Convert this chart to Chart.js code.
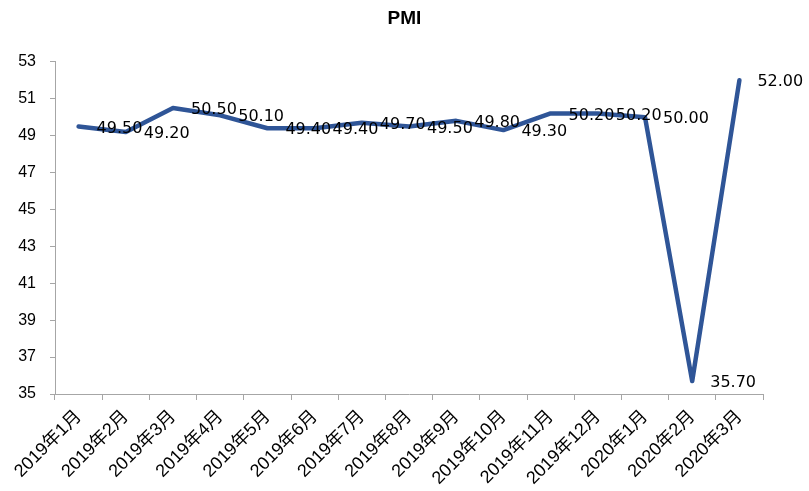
<!DOCTYPE html>
<html>
<head>
<meta charset="utf-8">
<script src="https://cdn.jsdelivr.net/npm/chart.js@4/dist/chart.umd.min.js"></script>
<style>
	html, body { margin: 0; padding: 0; background: #fff; overflow: hidden; }
</style>
</head>
<body>
<canvas id="myChart" width="809" height="491"></canvas>
<script>
// datos del grafico
const months = ['2019年1月', '2019年2月', '2019年3月', '2019年4月', '2019年5月', '2019年6月', '2019年7月', '2019年8月', '2019年9月', '2019年10月', '2019年11月', '2019年12月', '2020年1月', '2020年2月', '2020年3月']
const pmi = [49.5, 49.2, 50.5, 50.1, 49.4, 49.4, 49.7, 49.5, 49.8, 49.3, 50.2, 50.2, 50.0, 35.7, 52.0]
const yMin = 35
const yMax = 53
const yStep = 2

const axisGrey = '#a6a6a6'
const yFont = { family: "'Liberation Sans', sans-serif", size: 16 }
const xFont = { family: "'Liberation Sans', 'Noto Sans CJK SC', sans-serif", size: 18 }

// etiquetas de valores a la derecha de cada punto
const valueLabels = {
	id: 'valueLabels',
	afterDatasetsDraw: (chart) => {
		const ctx = chart.ctx
		const meta = chart.getDatasetMeta(0)
		ctx.save()
		ctx.font = "16px 'DejaVu Sans', sans-serif"
		ctx.fillStyle = '#000'
		ctx.textAlign = 'left'
		ctx.textBaseline = 'middle'
		meta.data.forEach((pt, i) => {
			ctx.fillText(pmi[i].toFixed(2), pt.x + 18, pt.y + 2)
		})
		ctx.restore()
	},
}

const ctx = document.getElementById('myChart').getContext('2d')
const myChart = new Chart(ctx, {
	type: 'line',
	data: {
		labels: months,
		datasets: [
			{
				label: 'PMI',
				data: pmi,
				borderColor: '#2F5597',
				borderWidth: 4.5,
				borderJoinStyle: 'round',
				borderCapStyle: 'round',
				pointRadius: 0,
				tension: 0,
				fill: false,
			},
		],
	},
	options: {
		responsive: false,
		animation: false,
		devicePixelRatio: 1,
		layout: { padding: 0 },
		plugins: {
			legend: { display: false },
			tooltip: { enabled: false },
			title: {
				display: true,
				text: 'PMI',
				color: '#000',
				font: { family: "'Liberation Sans', sans-serif", size: 19, weight: 'bold' },
				padding: { top: 7, bottom: 32 },
			},
		},
		scales: {
			x: {
				offset: true,
				grid: { offset: true, drawOnChartArea: false, drawTicks: true, tickLength: 6, color: axisGrey },
				border: { color: axisGrey, width: 1 },
				ticks: { color: '#000', font: xFont, minRotation: 45, maxRotation: 45, autoSkip: false, padding: 6 },
				afterFit: (scale) => { scale.height = 97 },
			},
			y: {
				min: yMin,
				max: yMax,
				grid: { drawOnChartArea: false, drawTicks: true, tickLength: 5, color: axisGrey },
				border: { color: axisGrey, width: 1 },
				ticks: { stepSize: yStep, color: '#000', font: yFont, padding: 14 },
				afterFit: (scale) => { scale.width = 55 },
			},
			// eje vacio para dejar el margen derecho
			yRight: {
				position: 'right',
				grid: { display: false },
				border: { display: false },
				ticks: { display: false },
				afterFit: (scale) => { scale.width = 46 },
			},
		},
	},
	plugins: [valueLabels],
})
</script>
</body>
</html>
